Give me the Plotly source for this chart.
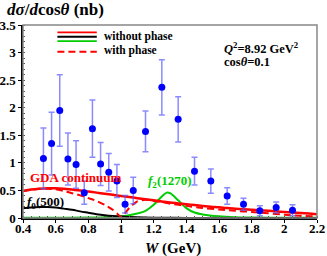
import plotly.graph_objects as go

# ---- data points ----
W_pts = [0.525, 0.575, 0.625, 0.675, 0.725, 0.775, 0.825, 0.875, 0.925, 0.975, 1.025, 1.075,
         1.15, 1.25, 1.35, 1.45, 1.55, 1.65, 1.75, 1.85, 1.95, 2.05]
xs_pts = [1.08, 1.35, 1.95, 1.07, 0.97, 0.46, 1.62, 0.98, 0.83, 0.67, 0.25, 0.50,
          1.57, 2.37, 1.79, 0.85, 0.67, 0.40, 0.25, 0.13, 0.19, 0.14]
err_pts = [0.55, 0.57, 0.65, 0.47, 0.43, 0.21, 0.52, 0.39, 0.34, 0.30, 0.16, 0.24,
           0.37, 0.50, 0.41, 0.25, 0.22, 0.15, 0.11, 0.09, 0.10, 0.10]

# ---- curves ----
W_gda = [0.40, 0.45, 0.50, 0.55, 0.60, 0.65, 0.70, 0.75, 0.80, 0.85, 0.90, 0.95, 1.00, 1.05,
         1.10, 1.15, 1.20, 1.25, 1.30, 1.35, 1.40, 1.45, 1.50, 1.55, 1.60, 1.65, 1.70, 1.75,
         1.80, 1.85, 1.90, 1.95, 2.00, 2.05, 2.10, 2.15, 2.20]
gda_nophase = [0.49, 0.515, 0.53, 0.54, 0.54, 0.53, 0.515, 0.50, 0.48, 0.46, 0.44, 0.42, 0.40, 0.38,
               0.36, 0.34, 0.32, 0.30, 0.28, 0.265, 0.25, 0.235, 0.22, 0.205, 0.195, 0.18, 0.17, 0.16,
               0.15, 0.14, 0.13, 0.12, 0.11, 0.10, 0.09, 0.08, 0.07]

W_dash = [0.40, 0.50, 0.55, 0.60, 0.65, 0.70, 0.75, 0.80, 0.85, 0.90, 0.95, 0.98, 1.00, 1.02,
          1.05, 1.10, 1.15, 1.20, 1.25, 1.30, 1.40, 1.50, 1.60, 1.70, 1.80, 1.90, 2.00, 2.10, 2.20]
gda_phase = [0.49, 0.53, 0.53, 0.52, 0.49, 0.45, 0.41, 0.36, 0.31, 0.24, 0.15, 0.07, 0.02, 0.07,
             0.18, 0.30, 0.33, 0.31, 0.29, 0.26, 0.22, 0.18, 0.155, 0.13, 0.11, 0.085, 0.06, 0.04, 0.03]

W_f0 = [0.40, 0.45, 0.50, 0.55, 0.60, 0.65, 0.70, 0.75, 0.80, 0.85, 0.90, 0.95, 1.00, 1.10,
        1.20, 1.40, 1.60, 2.20]
f0_500 = [0.175, 0.19, 0.20, 0.20, 0.19, 0.17, 0.15, 0.12, 0.095, 0.07, 0.05, 0.035, 0.025, 0.012,
          0.006, 0.002, 0.001, 0.0]

W_f2 = [0.40, 0.60, 0.80, 0.90, 1.00, 1.05, 1.10, 1.15, 1.20, 1.25, 1.28, 1.30, 1.35, 1.40,
        1.45, 1.50, 1.60, 1.70, 1.80, 2.00, 2.20]
f2_1270 = [0.003, 0.005, 0.01, 0.015, 0.03, 0.05, 0.08, 0.13, 0.24, 0.39, 0.46, 0.45, 0.32, 0.18,
           0.10, 0.065, 0.03, 0.015, 0.01, 0.005, 0.003]

x_ticks = [0.4, 0.6, 0.8, 1.0, 1.2, 1.4, 1.6, 1.8, 2.0, 2.2]
x_labels = ["0.4", "0.6", "0.8", "1", "1.2", "1.4", "1.6", "1.8", "2", "2.2"]
y_ticks = [0, 0.5, 1, 1.5, 2, 2.5, 3, 3.5]
y_labels = ["0", "0.5", "1", "1.5", "2", "2.5", "3", "3.5"]

SERIF = "Liberation Serif"
RED = "#ff0000"
GREEN = "#00cc00"
DASH = "7px,4px"

fig = go.Figure()
fig.add_trace(go.Scatter(x=W_f2, y=f2_1270, mode="lines", line=dict(color=GREEN, width=2, shape="spline"),
                         showlegend=False))
fig.add_trace(go.Scatter(x=W_f0, y=f0_500, mode="lines", line=dict(color="black", width=2, shape="spline"),
                         showlegend=False))
fig.add_trace(go.Scatter(x=W_gda, y=gda_nophase, mode="lines", line=dict(color=RED, width=2.5, shape="spline"),
                         showlegend=False))
fig.add_trace(go.Scatter(x=W_dash, y=gda_phase, mode="lines",
                         line=dict(color=RED, width=2, dash=DASH, shape="spline", smoothing=0.6),
                         showlegend=False))
fig.add_trace(go.Scatter(x=W_pts, y=xs_pts, mode="markers",
                         marker=dict(color="#0000ff", size=7),
                         error_y=dict(type="data", array=err_pts, color="rgba(90,90,255,0.7)",
                                      thickness=1.5, width=3),
                         showlegend=False))

# frame
fig.add_shape(type="rect", xref="paper", yref="paper", x0=0, x1=1, y0=0, y1=1,
              line=dict(color="#888888", width=1.5))

# legend (decoration)
for yy, col in [(0.962, RED), (0.939, "black"), (0.916, GREEN)]:
    fig.add_shape(type="line", xref="paper", yref="paper", x0=0.117, x1=0.251, y0=yy, y1=yy,
                  line=dict(color=col, width=1.8))
fig.add_shape(type="line", xref="paper", yref="paper", x0=0.117, x1=0.251, y0=0.862, y1=0.862,
              line=dict(color=RED, width=2, dash=DASH))

ann = [
    dict(x=0.268, y=0.943, text="<b>without phase</b>", size=11.5),
    dict(x=0.268, y=0.866, text="<b>with phase</b>", size=11.5),
    dict(x=0.677, y=0.882, text="<b><i>Q</i><sup>2</sup>=8.92 GeV<sup>2</sup></b>", size=12.5),
    dict(x=0.677, y=0.810, text="<b>cos<i>θ</i>=0.1</b>", size=12.5),
]
for a in ann:
    fig.add_annotation(xref="paper", yref="paper", xanchor="left", yanchor="middle", showarrow=False,
                       x=a["x"], y=a["y"], text=a["text"],
                       font=dict(family=SERIF, color="black", size=a["size"]))

fig.add_annotation(xref="x", yref="y", x=0.43, y=0.74, xanchor="left", yanchor="middle", showarrow=False,
                   text="<b>GDA continuum</b>", font=dict(family=SERIF, color=RED, size=13))
fig.add_annotation(xref="x", yref="y", x=0.41, y=0.29, xanchor="left", yanchor="middle", showarrow=False,
                   text="<b><i>f</i><sub>0</sub>(500)</b>", font=dict(family=SERIF, color="black", size=13))
fig.add_annotation(xref="x", yref="y", x=1.155, y=0.66, xanchor="left", yanchor="middle", showarrow=False,
                   text="<b><i>f</i><sub>2</sub>(1270)</b>", font=dict(family=SERIF, color=GREEN, size=13))

# titles
fig.add_annotation(xref="paper", yref="paper", x=-0.062, y=1.08, xanchor="left", yanchor="middle",
                   showarrow=False, text="<b><i>dσ</i>/<i>d</i>cos<i>θ</i> (nb)</b>",
                   font=dict(family=SERIF, color="black", size=17))
fig.add_annotation(xref="paper", yref="paper", x=0.51, y=-0.16, xanchor="center", yanchor="middle",
                   showarrow=False, text="<b><i>W</i> (GeV)</b>",
                   font=dict(family=SERIF, color="black", size=15))

fig.update_xaxes(range=[0.4, 2.2], tickvals=x_ticks, ticktext=x_labels, ticks="outside", ticklen=3,
                 tickwidth=1, tickcolor="black", showline=True, linecolor="black", linewidth=1.5,
                 showgrid=False, zeroline=False, automargin=False, ticklabelstandoff=-5,
                 tickfont=dict(family=SERIF, size=13, color="black", weight="bold"),
                 minor=dict(ticks="inside", ticklen=2, dtick=0.05, tickcolor="#555"))
fig.update_yaxes(range=[0, 3.5], tickvals=y_ticks, ticktext=y_labels, ticks="outside", ticklen=3,
                 tickwidth=1, tickcolor="black", showline=True, linecolor="black", linewidth=1.5,
                 showgrid=False, zeroline=False, automargin=False,
                 tickfont=dict(family=SERIF, size=13, color="black", weight="bold"),
                 minor=dict(ticks="inside", ticklen=2, dtick=0.1, tickcolor="#555"))

fig.update_layout(width=327, height=256, margin=dict(l=23, r=10, t=25, b=38),
                  plot_bgcolor="white", paper_bgcolor="white", showlegend=False)

fig.write_html("out.html", config={"displayModeBar": False},
               post_script="document.body.style.margin='0';document.body.style.overflow='hidden';")
